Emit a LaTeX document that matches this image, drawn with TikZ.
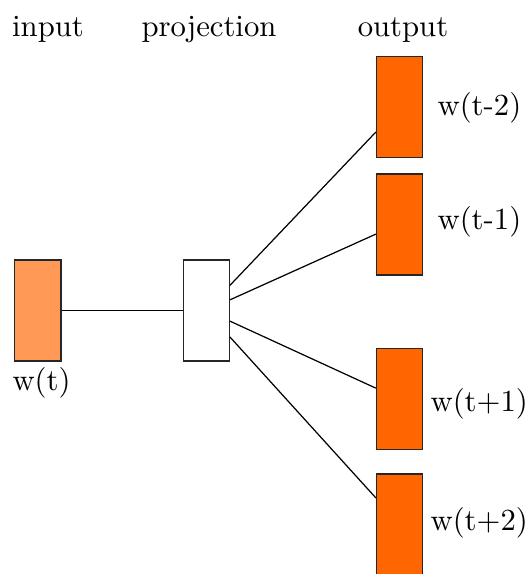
\documentclass[tikz,border=0pt]{standalone}
\usetikzlibrary{calc}
\definecolor{inorange}{HTML}{FF9955}
\definecolor{outorange}{HTML}{FF6600}
\begin{document}
\begin{tikzpicture}[x=0.3257pt,y=-0.3257pt,
  cell/.style={draw=black!85, line width=0.4pt, inner sep=0pt, minimum width=15pt, minimum height=32.9pt},
  lbl/.style={inner sep=0pt, font=\normalsize},
  conn/.style={draw=black, line width=0.4pt}]
\useasboundingbox (0,0) rectangle (525,574);
\clip (0,0) rectangle (525,574);
% titles
\node[lbl, anchor=base] (tin) at (48,37) {input};
\node[lbl, anchor=base] (tproj) at (209,37) {projection};
\node[lbl, anchor=base] (tout) at (403,37) {output};
% boxes
\node[cell, fill=inorange] (in) at (37.9,310.5) {};
\node[cell, fill=white] (proj) at (206.3,310.5) {};
\node[cell, fill=outorange] (o1) at (399.5,107.2) {};
\node[cell, fill=outorange] (o2) at (399.5,224.5) {};
\node[cell, fill=outorange] (o3) at (399.5,398.8) {};
\node[cell, fill=outorange] (o4) at (399.5,524.5) {};
% labels
\node[lbl, anchor=base] (lin) at (41.5,390) {w(t)};
\node[lbl, anchor=base west] (l1) at (437,115.5) {w(t-2)};
\node[lbl, anchor=base west] (l2) at (437,229.5) {w(t-1)};
\node[lbl, anchor=base west] (l3) at (430,411.5) {w(t+1)};
\node[lbl, anchor=base west] (l4) at (430,530) {w(t+2)};
% connectors
\draw[conn] (in.east) -- (proj.west);
\draw[conn] ($(proj.north east)!0.254!(proj.south east)$) -- ($(o1.north west)!0.743!(o1.south west)$);
\draw[conn] ($(proj.north east)!0.396!(proj.south east)$) -- ($(o2.north west)!0.594!(o2.south west)$);
\draw[conn] ($(proj.north east)!0.604!(proj.south east)$) -- ($(o3.north west)!0.396!(o3.south west)$);
\draw[conn] ($(proj.north east)!0.759!(proj.south east)$) -- ($(o4.north west)!0.24!(o4.south west)$);
\end{tikzpicture}
\end{document}
